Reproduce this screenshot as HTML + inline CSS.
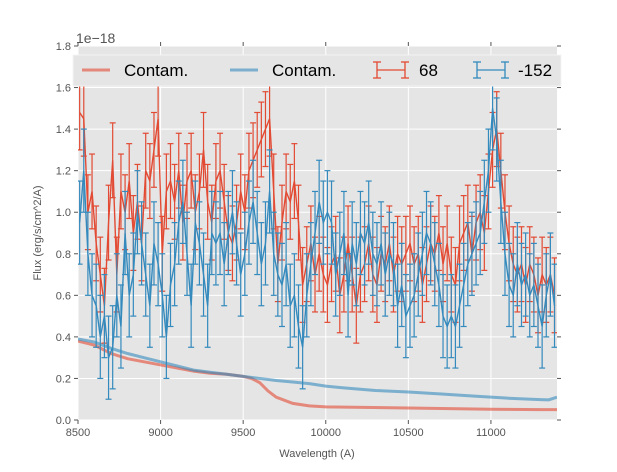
<!DOCTYPE html>
<html><head><meta charset="utf-8"><style>
body{margin:0;background:#fff;width:617px;height:467px;overflow:hidden;font-family:"Liberation Sans",sans-serif}
</style></head><body>
<svg id="chart" width="617" height="467" xmlns="http://www.w3.org/2000/svg" font-family="Liberation Sans, sans-serif">
<rect x="78" y="46" width="479" height="374" fill="#e5e5e5"/>
<g id="grid"></g><g id="axes"></g><g id="series"></g>
<g>
<rect x="73" y="55" width="488" height="31" fill="#e5e5e5" stroke="#f4f4f4" stroke-width="1"/>
<line x1="82" y1="70" x2="110" y2="70" stroke="#e24a33" stroke-opacity="0.6" stroke-width="3"/>
<text x="124" y="76" font-size="17">Contam.</text>
<line x1="230" y1="70" x2="258" y2="70" stroke="#348abd" stroke-opacity="0.6" stroke-width="3"/>
<text x="272" y="76" font-size="17">Contam.</text>
<g stroke="#e24a33" stroke-width="1.3"><line x1="377" y1="70" x2="405" y2="70"/><line x1="377" y1="62" x2="377" y2="78"/><line x1="405" y1="62" x2="405" y2="78"/><line x1="373" y1="62" x2="381" y2="62"/><line x1="373" y1="78" x2="381" y2="78"/><line x1="401" y1="62" x2="409" y2="62"/><line x1="401" y1="78" x2="409" y2="78"/></g>
<text x="419" y="76" font-size="17">68</text>
<g stroke="#348abd" stroke-width="1.3"><line x1="477" y1="70" x2="505" y2="70"/><line x1="477" y1="62" x2="477" y2="78"/><line x1="505" y1="62" x2="505" y2="78"/><line x1="473" y1="62" x2="481" y2="62"/><line x1="473" y1="78" x2="481" y2="78"/><line x1="501" y1="62" x2="509" y2="62"/><line x1="501" y1="78" x2="509" y2="78"/></g>
<text x="518" y="76" font-size="17">-152</text>
</g>
<text x="76" y="43" font-size="14" fill="#555">1e−18</text>
<text x="317" y="457" font-size="11" fill="#555" text-anchor="middle">Wavelength (A)</text>
<text transform="translate(41,233) rotate(-90)" font-size="11" fill="#555" text-anchor="middle">Flux (erg/s/cm^2/A)</text>
</svg>
<script>
const xTicks=[8500,9000,9500,10000,10500,11000];
const yTicks=[0,0.2,0.4,0.6,0.8,1.0,1.2,1.4,1.6,1.8];
const wlStart=8510, wlStep=25;
const fluxRed=[1.48,1.45,1.0,1.1,0.85,0.7,0.55,0.95,1.25,0.7,1.1,1.0,1.15,0.9,1.05,0.85,1.2,1.15,1.3,1.45,
0.8,1.1,1.15,1.05,1.2,0.95,1.15,1.2,1.0,1.1,1.3,1.05,0.95,1.15,1.2,1.05,0.9,0.85,0.95,1.1,
1.0,1.2,1.25,1.3,1.35,1.4,1.45,1.1,0.75,0.95,1.1,1.05,1.15,0.95,0.65,0.75,0.85,0.7,0.8,0.7,
0.65,0.75,0.8,0.6,0.7,0.85,0.7,0.55,0.7,0.75,0.85,0.7,0.65,0.8,0.75,0.85,0.7,0.8,0.75,0.8,
0.85,0.75,0.8,0.65,0.75,0.85,0.8,0.9,0.75,0.85,0.7,0.65,0.85,0.9,0.95,0.8,0.95,1.0,0.9,1.1,
1.3,1.4,1.2,1.0,0.85,0.75,0.7,0.75,0.65,0.75,0.7,0.6,0.7,0.65,0.7,0.6];
const fluxBlue=[0.95,1.2,0.8,0.6,0.55,0.4,0.5,0.3,0.35,0.6,0.45,0.9,0.6,0.7,1.0,0.85,0.7,0.55,0.85,0.75,
0.6,0.4,0.65,0.75,0.95,1.05,0.8,0.55,0.95,0.85,0.7,0.55,0.9,0.85,0.9,0.75,0.9,1.0,0.85,0.7,
0.8,0.95,1.05,0.9,0.75,0.85,1.1,0.8,0.7,0.65,0.75,0.55,0.6,0.45,0.35,0.6,0.75,0.9,1.05,0.95,
1.0,0.95,0.7,0.8,0.9,0.6,0.85,0.75,0.9,0.85,0.95,0.8,0.75,0.85,0.7,0.8,0.75,0.55,0.65,0.5,
0.55,0.6,0.7,0.8,0.9,0.85,0.75,0.65,0.5,0.45,0.5,0.45,0.55,0.65,0.75,0.8,0.85,0.9,1.05,1.2,
1.5,1.35,1.05,0.8,0.65,0.6,0.75,0.65,0.7,0.6,0.65,0.55,0.45,0.6,0.7,0.55];
const errRed=0.18, errBlue=0.2;
const contamWl=[8500,8600,8700,8800,8900,9000,9100,9200,9300,9400,9500,9550,9600,9650,9700,9800,9900,10000,10500,11000,11300,11400];
const contamRed=[0.38,0.36,0.32,0.295,0.28,0.265,0.25,0.235,0.225,0.22,0.21,0.2,0.18,0.14,0.11,0.08,0.068,0.063,0.058,0.052,0.05,0.05];
const contamBlueWl=[8500,8600,8700,8800,8900,9000,9100,9200,9300,9400,9500,9600,9700,9800,9900,10000,10100,10300,10500,10700,10900,11100,11300,11350,11400];
const contamBlue=[0.39,0.375,0.345,0.32,0.3,0.28,0.26,0.24,0.23,0.22,0.21,0.2,0.19,0.183,0.175,0.163,0.155,0.142,0.135,0.125,0.115,0.105,0.098,0.097,0.11];

const NS="http://www.w3.org/2000/svg";
const X=w=>78+(w-8500)/2900*479, Y=v=>420-v/1.8*374;
function mk(p,t,a){const e=document.createElementNS(NS,t);for(const k in a)e.setAttribute(k,a[k]);p.appendChild(e);return e;}
const grid=document.getElementById('grid'),axes=document.getElementById('axes'),ser=document.getElementById('series');
xTicks.forEach(t=>{
  const g=mk(grid,'line',{x1:X(t),x2:X(t),y1:46,y2:420,stroke:'#fff','stroke-width':1});
  
  
  mk(axes,'line',{x1:X(t),x2:X(t),y1:420,y2:424,stroke:'#555'});
  mk(axes,'line',{x1:X(t),x2:X(t),y1:42,y2:46,stroke:'#555'});
  const l=mk(axes,'text',{x:X(t),y:436,'font-size':11,fill:'#555','text-anchor':'middle'});l.textContent=t;
  
  
});
yTicks.forEach(t=>{
  const g=mk(grid,'line',{x1:78,x2:557,y1:Y(t),y2:Y(t),stroke:'#fff','stroke-width':1});
  
  
  mk(axes,'line',{x1:74,x2:78,y1:Y(t),y2:Y(t),stroke:'#555'});
  mk(axes,'line',{x1:557,x2:561,y1:Y(t),y2:Y(t),stroke:'#555'});
  const l=mk(axes,'text',{x:71,y:Y(t)+4,'font-size':11,fill:'#555','text-anchor':'end'});l.textContent=t.toFixed(1);
  
  
});
function contam(ws,vs,col,name){
  const p=mk(ser,'polyline',{points:ws.map((w,i)=>X(w)+','+Y(vs[i])).join(' '),fill:'none',stroke:col,'stroke-opacity':0.6,'stroke-width':3});
  
  
}
function errSeries(vals,err,col,name){
  const g=mk(ser,'g',{stroke:col,'stroke-width':1.2,fill:'none'});
  
  
  vals.forEach((v,i)=>{const x=X(wlStart+i*wlStep),a=Y(v+err),b=Y(v-err);
    mk(g,'line',{x1:x,x2:x,y1:a,y2:b});mk(g,'line',{x1:x-3,x2:x+3,y1:a,y2:a});mk(g,'line',{x1:x-3,x2:x+3,y1:b,y2:b});});
  mk(g,'polyline',{points:vals.map((v,i)=>X(wlStart+i*wlStep)+','+Y(v)).join(' '),'stroke-width':1.4});
}
const cp=mk(ser,'clipPath',{id:'clip'});mk(cp,'rect',{x:78,y:46,width:479,height:374});
ser.setAttribute('clip-path','url(#clip)');
contam(contamWl,contamRed,'#e24a33','contam-red-line');
contam(contamBlueWl,contamBlue,'#348abd','contam-blue-line');
errSeries(fluxRed,errRed,'#e24a33','series-68');
errSeries(fluxBlue,errBlue,'#348abd','series-152');
</script>
</body></html>
